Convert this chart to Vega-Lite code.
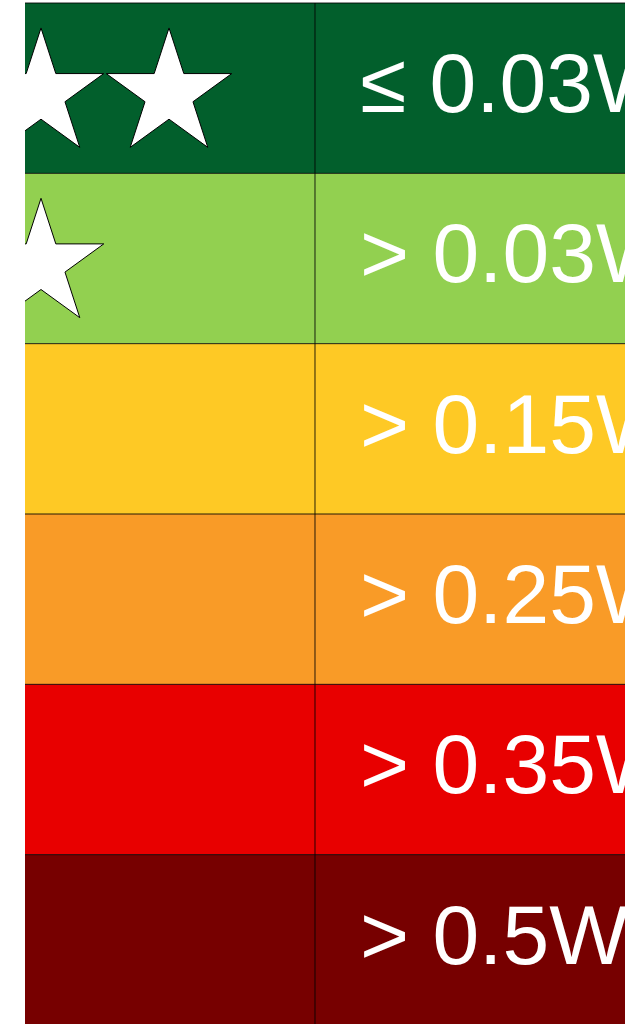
{
  "$schema": "https://vega.github.io/schema/vega-lite/v6.json",
  "width": 600,
  "height": 1024,
  "padding": {"left": 25, "top": 0, "right": 0, "bottom": 0},
  "autosize": {"type": "none"},
  "background": "white",
  "config": {"view": {"stroke": null}},
  "datasets": {
    "levels": [
      {"label": "≤ 0.03W"},
      {"label": "> 0.03W"},
      {"label": "> 0.15W"},
      {"label": "> 0.25W"},
      {"label": "> 0.35W"},
      {"label": "> 0.5W"}
    ],
    "stars": [
      {"label": "≤ 0.03W", "star": 1},
      {"label": "≤ 0.03W", "star": 2},
      {"label": "> 0.03W", "star": 1}
    ]
  },
  "resolve": {"scale": {"x": "independent"}},
  "layer": [
    {
      "data": {"name": "levels"},
      "layer": [
        {
          "mark": {"type": "rect"},
          "encoding": {
            "y": {
              "field": "label",
              "type": "nominal",
              "sort": null,
              "scale": {"type": "band", "range": [3, 1025], "paddingInner": 0, "paddingOuter": 0},
              "axis": null
            },
            "x": {"datum": 0, "type": "quantitative", "scale": {"domain": [0, 2.069], "range": [0, 600], "zero": false, "nice": false}, "axis": null},
            "x2": {"datum": 2.069},
            "color": {
              "field": "label",
              "type": "nominal",
              "sort": null,
              "scale": {
                "domain": ["≤ 0.03W", "> 0.03W", "> 0.15W", "> 0.25W", "> 0.35W", "> 0.5W"],
                "range": ["#025f2c", "#92d050", "#fec925", "#f99b27", "#e80000", "#770000"]
              },
              "legend": null
            }
          }
        },
        {
          "mark": {"type": "rule", "color": "#000000", "strokeWidth": 1, "opacity": 0.85},
          "encoding": {
            "y": {"field": "label", "type": "nominal", "sort": null, "bandPosition": 0},
            "x": {"datum": 0, "type": "quantitative"},
            "x2": {"datum": 2.069}
          }
        },
        {
          "mark": {"type": "rule", "color": "#000000", "strokeWidth": 1, "opacity": 0.85},
          "encoding": {
            "x": {"datum": 1, "type": "quantitative"},
            "y": {"field": "label", "type": "nominal", "sort": null, "bandPosition": 0},
            "y2": {"field": "label", "bandPosition": 1}
          }
        },
        {
          "mark": {"type": "text", "align": "left", "baseline": "alphabetic", "dx": 45, "font": "Liberation Sans", "fontSize": 84, "color": "#ffffff"},
          "encoding": {
            "x": {"datum": 1, "type": "quantitative"},
            "y": {"field": "label", "type": "nominal", "sort": null, "bandPosition": 0.64},
            "text": {"field": "label"}
          }
        }
      ]
    },
    {
      "data": {"name": "stars"},
      "mark": {
        "type": "point",
        "clip": true,
        "shape": "M0,-1L0.2245,-0.309L0.9511,-0.309L0.3633,0.118L0.5878,0.809L0,0.382L-0.5878,0.809L-0.3633,0.118L-0.9511,-0.309L-0.2245,-0.309Z",
        "filled": true,
        "fill": "#ffffff",
        "stroke": "#000000",
        "strokeWidth": 1,
        "opacity": 1,
        "fillOpacity": 1,
        "size": 17424
      },
      "encoding": {
        "x": {"field": "star", "type": "quantitative", "scale": {"domain": [1, 2], "range": [16, 144], "zero": false, "nice": false}, "axis": null},
        "y": {"field": "label", "type": "nominal", "sort": null, "bandPosition": 0.534}
      }
    }
  ]
}
